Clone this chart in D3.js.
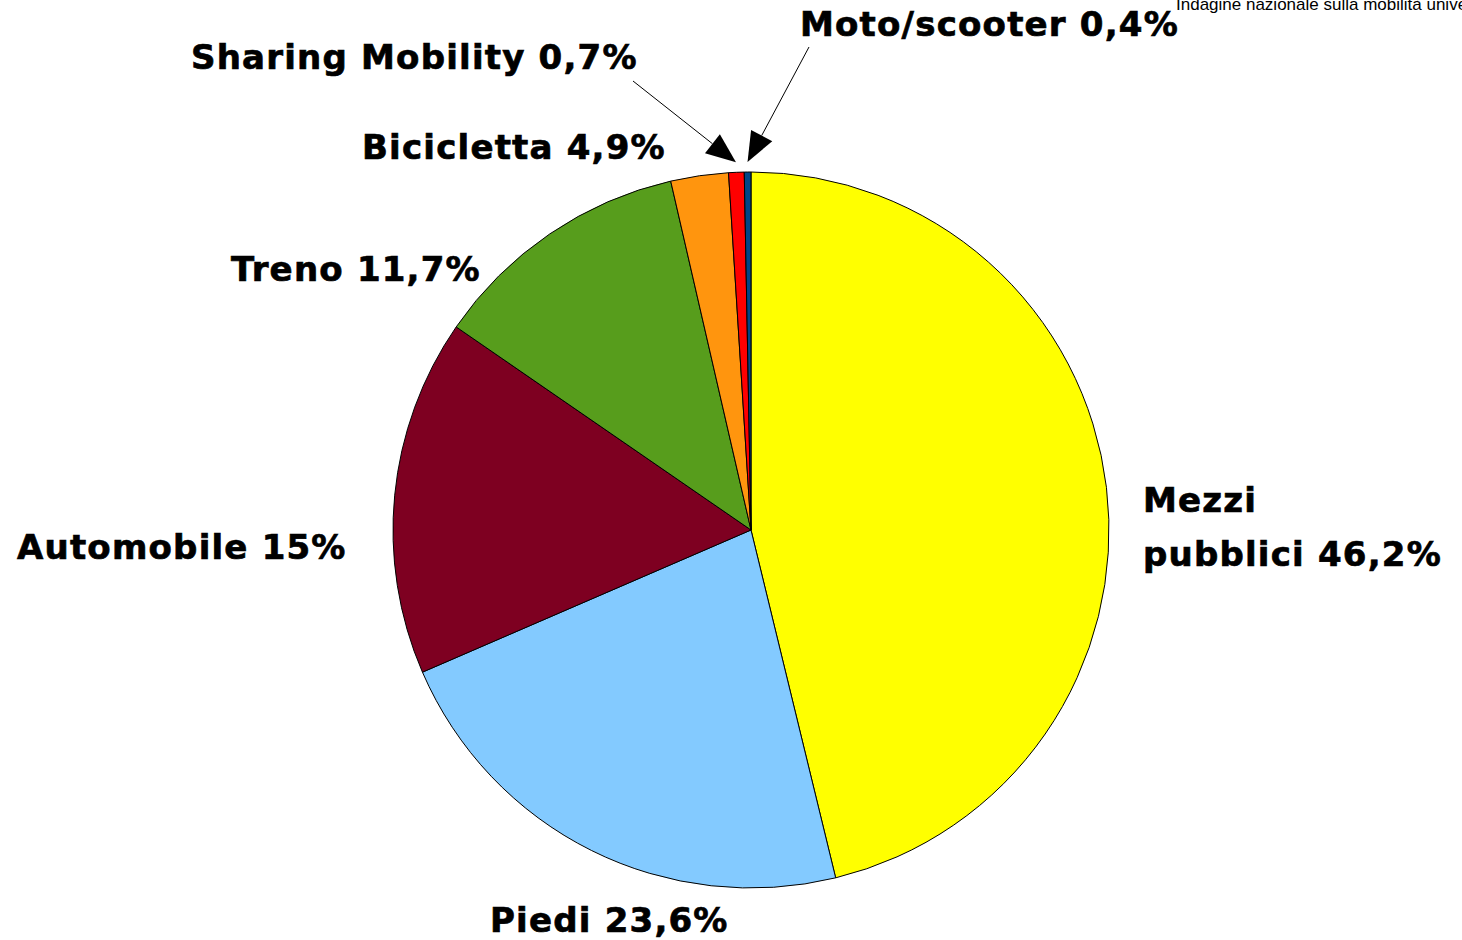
<!DOCTYPE html>
<html>
<head>
<meta charset="utf-8">
<script src="https://cdn.jsdelivr.net/npm/d3@7"></script>
<style>
  body { margin: 0; background: #fff; }
</style>
</head>
<body>
<div id="container"></div>
<script>
// slice values as drawn (clockwise from 12 o'clock)
var categories = ['Mezzi pubblici', 'Piedi', 'Automobile', 'Treno', 'Bicicletta', 'Sharing Mobility', 'Moto/scooter'];
var values = [46.2, 22.3, 16.1, 11.8, 2.6, 0.7, 0.3];
var labels = [['Mezzi', 'pubblici 46,2%'], ['Piedi 23,6%'], ['Automobile 15%'], ['Treno 11,7%'], ['Bicicletta 4,9%'], ['Sharing Mobility 0,7%'], ['Moto/scooter 0,4%']];
var colors = ['#ffff00', '#83caff', '#7e0021', '#579d1c', '#ff950e', '#ff0000', '#004586'];

var svgWidth = 1462,
    svgHeight = 940,
    cx = 751, cy = 530, radius = 358;

var svg = d3.select('#container').append('svg')
    .attr('width', svgWidth).attr('height', svgHeight)
    .style('background-color', 'white');

var pie = d3.pie().sort(null).value(function(d) { return d; });
var arc = d3.arc().innerRadius(0).outerRadius(radius);
var tipArc = d3.arc().innerRadius(radius + 10).outerRadius(radius + 10);

var arcs = pie(values);

var g = svg.append('g').attr('transform', 'translate(' + cx + ',' + cy + ')');

g.selectAll('path.slice')
  .data(arcs)
  .enter().append('path')
    .attr('class', 'slice')
    .attr('d', arc)
    .attr('fill', function(d, i) { return colors[i]; })
    .attr('stroke', '#000')
    .attr('stroke-width', 1);

// label placement (left x, baseline y) in page coords
var labelPos = [[1143, 512], [490, 932], [17, 559], [231, 281], [362, 159], [191, 69], [800, 36]];
var lineGap = 54;

svg.selectAll('text.lbl')
  .data(labels)
  .enter().append('text')
    .attr('class', 'lbl')
    .attr('x', function(d, i) { return labelPos[i][0]; })
    .attr('y', function(d, i) { return labelPos[i][1]; })
    .style('font-family', 'DejaVu Sans, sans-serif')
    .style('font-weight', 'bold')
    .style('font-size', '34px')
    .style('letter-spacing', '1.2px')
    .attr('fill', '#000')
    .attr('stroke', '#000')
    .attr('stroke-width', 0.7)
    .each(function(d, i) {
      var t = d3.select(this);
      d.forEach(function(line, j) {
        t.append('tspan')
          .attr('x', labelPos[i][0])
          .attr('dy', j === 0 ? 0 : lineGap)
          .text(line);
      });
    });

// leader arrows for the two thin slices
var arrowStart = { 5: [633, 81], 6: [809, 47] };
Object.keys(arrowStart).forEach(function(k) {
  var i = +k;
  var c = tipArc.centroid(arcs[i]);
  var tip = [cx + c[0], cy + c[1]];
  var s = arrowStart[k];
  var dx = tip[0] - s[0], dy = tip[1] - s[1];
  var len = Math.sqrt(dx * dx + dy * dy);
  var ux = dx / len, uy = dy / len;
  var headLen = 30, headW = 12;
  var bx = tip[0] - ux * headLen, by = tip[1] - uy * headLen;
  svg.append('line')
    .attr('x1', s[0]).attr('y1', s[1])
    .attr('x2', bx).attr('y2', by)
    .attr('stroke', '#000').attr('stroke-width', 1);
  svg.append('path')
    .attr('d', 'M' + tip[0] + ',' + tip[1] +
      'L' + (bx - uy * headW) + ',' + (by + ux * headW) +
      'L' + (bx + uy * headW) + ',' + (by - ux * headW) + 'Z')
    .attr('fill', '#000');
});

svg.append('text')
  .attr('x', 1176)
  .attr('y', 10)
  .style('font-family', 'Liberation Sans, Arial, sans-serif')
  .style('font-size', '17px')
  .attr('fill', '#000')
  .text('Indagine nazionale sulla mobilità universitaria');
</script>
</body>
</html>
